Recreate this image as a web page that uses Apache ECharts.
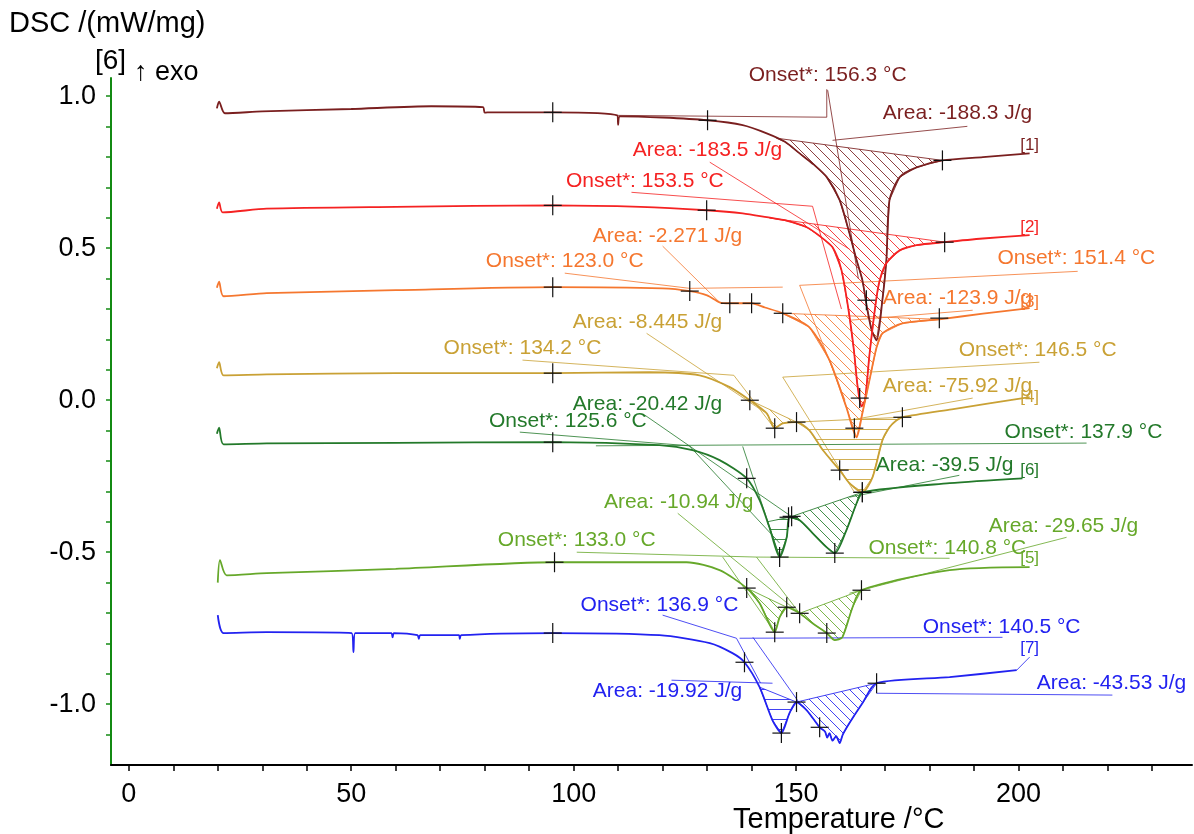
<!DOCTYPE html>
<html>
<head>
<meta charset="utf-8">
<title>DSC</title>
<script src="https://cdn.jsdelivr.net/npm/echarts@6/dist/echarts.min.js"></script>
<style>
  html, body { margin: 0; padding: 0; background: #fff; }
  #chart { width: 1194px; height: 834px; }
</style>
</head>
<body>
<div id="chart"></div>
<script>
// axis ticks and labels
const xTicks = [0, 10, 20, 30, 40, 50, 60, 70, 80, 90, 100, 110, 120, 130, 140, 150, 160, 170, 180, 190, 200, 210, 220, 230];
const xLabels = [0, 50, 100, 150, 200];
const yTicks = [-1.1, -1.0, -0.9, -0.8, -0.7, -0.6, -0.5, -0.4, -0.3, -0.2, -0.1, 0, 0.1, 0.2, 0.3, 0.4, 0.5, 0.6, 0.7, 0.8, 0.9, 1.0];
const yLabels = [-1.0, -0.5, 0, 0.5, 1.0];

// curves, [temperature, dsc]
const curve1 = [[19.8,0.960],[20.3,0.982],[21.6,0.944],[30,0.950],[50,0.958],[68,0.967],[79.6,0.964],[80.0,0.946],[80.6,0.947],[95.3,0.947],[109.8,0.937],[110.0,0.906],[110.4,0.934],[120,0.930],[130.1,0.921],[138,0.905],[143.4,0.878],[147.5,0.850],[150.8,0.812],[154,0.775],[156.9,0.734],[159.8,0.658],[162.0,0.549],[163.6,0.461],[164.9,0.395],[166.0,0.300],[167.0,0.230],[168.1,0.197],[169.4,0.329],[170.3,0.461],[171.0,0.658],[173.3,0.734],[177.1,0.766],[182.9,0.789],[192,0.800],[202.5,0.812]];
const curve2 = [[19.8,0.630],[20.3,0.651],[21.1,0.618],[31,0.630],[60,0.636],[95.3,0.641],[115,0.636],[129.9,0.625],[138,0.615],[143.4,0.602],[148,0.590],[152.4,0.569],[155.3,0.540],[158.2,0.503],[160.2,0.428],[161.8,0.296],[163.0,0.164],[163.8,0.049],[164.7,-0.020],[165.5,0.000],[166.5,0.150],[168.0,0.330],[168.8,0.395],[170.3,0.451],[173.3,0.493],[177.1,0.510],[183.4,0.520],[192,0.532],[202.5,0.543]];
const curve3 = [[19.8,0.370],[20.3,0.390],[21.3,0.342],[31,0.352],[60,0.362],[95.3,0.372],[120,0.368],[126.1,0.359],[130,0.345],[132.8,0.322],[135.1,0.319],[140,0.319],[143,0.305],[147,0.286],[153,0.240],[157.5,0.132],[161.3,-0.023],[163.6,-0.122],[164.9,-0.043],[166.5,0.066],[168.1,0.174],[169.4,0.220],[173.9,0.253],[182.2,0.266],[192,0.285],[202.5,0.303]];
const curve4 = [[19.8,0.105],[20.3,0.125],[21.3,0.082],[31,0.085],[60,0.089],[95.3,0.089],[117,0.092],[128.3,0.082],[135.1,0.043],[139.6,0.000],[143.4,-0.043],[145.2,-0.092],[147.0,-0.076],[150.1,-0.072],[153.0,-0.099],[156.0,-0.164],[159.8,-0.230],[162.0,-0.273],[164.9,-0.303],[167.2,-0.253],[169.4,-0.132],[171.0,-0.089],[172.6,-0.066],[173.9,-0.056],[185,-0.030],[202.5,0.010]];
const curve6 = [[19.8,-0.110],[20.3,-0.090],[21.3,-0.145],[31,-0.142],[60,-0.140],[95.3,-0.138],[119.3,-0.148],[126.7,-0.164],[132.8,-0.197],[138.9,-0.257],[141.8,-0.329],[144.0,-0.418],[146.3,-0.516],[147.9,-0.451],[148.5,-0.385],[150.8,-0.395],[153.7,-0.437],[156.9,-0.484],[158.7,-0.503],[161.3,-0.428],[163.6,-0.339],[164.9,-0.303],[184.5,-0.273],[200.9,-0.257]];
const curve5 = [[20.0,-0.600],[20.5,-0.526],[22.0,-0.576],[31,-0.569],[60,-0.555],[95.7,-0.533],[125.4,-0.533],[132.8,-0.559],[138.9,-0.618],[141.8,-0.668],[145.2,-0.763],[146.3,-0.714],[147.9,-0.681],[150.8,-0.701],[153.7,-0.734],[156.9,-0.766],[158.7,-0.789],[160.4,-0.780],[162.7,-0.681],[164.7,-0.625],[184.5,-0.559],[202.5,-0.549]];
const curve7 = [[20.0,-0.707],[21.3,-0.766],[31,-0.763],[50.1,-0.766],[50.5,-0.829],[50.9,-0.766],[59.0,-0.766],[59.3,-0.780],[59.6,-0.766],[64.9,-0.773],[65.2,-0.785],[65.5,-0.773],[74.2,-0.773],[74.4,-0.785],[74.7,-0.773],[95.3,-0.766],[119.3,-0.773],[130.6,-0.799],[135.7,-0.832],[138.4,-0.862],[141.8,-0.944],[144.7,-1.053],[146.7,-1.095],[148.5,-1.030],[150.1,-0.993],[152.4,-1.020],[155.3,-1.076],[156.5,-1.090],[157.0,-1.110],[157.5,-1.095],[158.2,-1.120],[159.0,-1.105],[159.8,-1.128],[160.5,-1.100],[162.0,-1.062],[164.9,-0.997],[168.1,-0.931],[184.5,-0.911],[199.6,-0.888]];

// evaluation marks (+)
const marks1 = [[95.3,0.947],[130.1,0.921],[165.8,0.329],[182.9,0.789]];
const marks2 = [[95.3,0.641],[129.9,0.625],[164.3,0.007],[183.4,0.520]];
const marks3 = [[95.3,0.372],[126.1,0.359],[135.1,0.319],[140.0,0.319],[147.0,0.286],[163.1,-0.092],[182.2,0.270]];
const marks4 = [[95.3,0.089],[139.6,0.000],[145.2,-0.092],[150.1,-0.072],[159.8,-0.230],[164.9,-0.303],[173.9,-0.056]];
const marks6 = [[95.3,-0.138],[138.9,-0.257],[146.3,-0.516],[148.3,-0.385],[149.0,-0.382],[158.7,-0.503],[164.9,-0.303]];
const marks5 = [[95.7,-0.533],[138.9,-0.618],[145.2,-0.763],[147.9,-0.681],[150.8,-0.701],[156.9,-0.766],[164.7,-0.625]];
const marks7 = [[95.3,-0.766],[138.4,-0.862],[146.7,-1.095],[150.1,-0.993],[155.3,-1.076],[168.1,-0.931]];

// integrated areas: [T start, baseline start, T end, baseline end, hatch]
const areas1 = [[145.6,0.862,182.9,0.789,'d']];
const areas2 = [[144.0,0.600,183.4,0.520,'d']];
const areas3 = [[147.0,0.286,182.2,0.266,'d']];
const areas4 = [[139.6,0.000,150.1,-0.072,'d'],[150.1,-0.072,173.9,-0.056,'h']];
const areas6 = [[143.5,-0.400,148.5,-0.385,'h'],[148.5,-0.385,164.9,-0.303,'d']];
const areas5 = [[138.9,-0.618,147.9,-0.681,'d'],[150.8,-0.701,164.7,-0.625,'d']];
const areas7 = [[141.8,-0.944,150.1,-0.993,'h'],[150.1,-0.993,168.1,-0.931,'d']];

// tangents, baselines and leader lines
const guides1 = [[[110,0.937],[156.9,0.931],[156.9,1.023]],[[157.1,1.020],[164.0,0.400]],[[188.5,0.901],[158.2,0.855]]];
const guides2 = [[[113.0,0.684],[153.7,0.638],[160.2,0.300]],[[130.6,0.783],[162.0,0.497]]];
const guides3 = [[[120.0,0.507],[132.8,0.322]],[[98.0,0.418],[126.1,0.368],[147,0.372]],[[213.3,0.424],[150.8,0.378],[161.0,0.000]],[[189.7,0.296],[162.0,0.263]]];
const guides4 = [[[116.4,0.220],[142.9,-0.039]],[[88.5,0.132],[136,0.082],[145,-0.090]],[[204.7,0.125],[147.0,0.076],[163.0,-0.300]],[[189.7,0.007],[162.0,-0.066]]];
const guides6 = [[[116.0,-0.049],[149.2,-0.385]],[[87.9,-0.105],[126,-0.150],[146.3,-0.470]],[[215.3,-0.141],[105,-0.150]],[[138,-0.152],[146.3,-0.516]],[[186.7,-0.247],[162.0,-0.319]]];
const guides5 = [[[123.4,-0.372],[150.8,-0.701]],[[100.7,-0.500],[141.1,-0.516],[184.5,-0.520]],[[141.1,-0.516],[150.8,-0.701]],[[133.5,-0.516],[145.2,-0.763]],[[210.8,-0.451],[162.0,-0.635]]];
const guides7 = [[[120.0,-0.707],[136.6,-0.783],[142.0,-0.930]],[[137.3,-0.783],[196.4,-0.780]],[[140.3,-0.780],[150.8,-0.997]],[[122.0,-0.921],[144.7,-0.931]],[[221.1,-0.970],[168.1,-0.964]],[[199.6,-0.888],[202.5,-0.845]]];

// result texts: [text, T, dsc]
const labels1 = [['Onset*: 156.3 °C',157.1,1.069],['Area: -188.3 J/g',186.3,0.944],['[1]',202.5,0.839]];
const labels2 = [['Area: -183.5 J/g',130.1,0.822],['Onset*: 153.5 °C',116.0,0.720],['[2]',202.5,0.569]];
const labels3 = [['Area: -2.271 J/g',121.1,0.539],['Onset*: 123.0 °C',98.0,0.457],['Onset*: 151.4 °C',213.0,0.467],['Area: -123.9 J/g',186.3,0.336],['[3]',202.5,0.322]];
const labels4 = [['Area: -8.445 J/g',116.6,0.257],['Onset*: 134.2 °C',88.5,0.171],['Onset*: 146.5 °C',204.3,0.164],['Area: -75.92 J/g',186.3,0.046],['[4]',202.5,0.010]];
const labels6 = [['Area: -20.42 J/g',116.6,-0.013],['Onset*: 125.6 °C',98.7,-0.069],['Onset*: 137.9 °C',214.6,-0.105],['Area: -39.5 J/g',183.4,-0.214],['[6]',202.5,-0.230]];
const labels5 = [['Area: -10.94 J/g',123.6,-0.336],['Area: -29.65 J/g',210.1,-0.414],['Onset*: 133.0 °C',100.7,-0.461],['Onset*: 140.8 °C',184.0,-0.487],['[5]',202.5,-0.520]];
const labels7 = [['Onset*: 136.9 °C',119.3,-0.674],['Onset*: 140.5 °C',196.2,-0.747],['[7]',202.5,-0.816],['Area: -19.92 J/g',121.1,-0.957],['Area: -43.53 J/g',220.9,-0.931]];

const samples = [
  { color: '#7a1f1f', curve: curve1, marks: marks1, areas: areas1, guides: guides1, labels: labels1 },
  { color: '#f52222', curve: curve2, marks: marks2, areas: areas2, guides: guides2, labels: labels2 },
  { color: '#f5772f', curve: curve3, marks: marks3, areas: areas3, guides: guides3, labels: labels3 },
  { color: '#c9a135', curve: curve4, marks: marks4, areas: areas4, guides: guides4, labels: labels4 },
  { color: '#23792a', curve: curve6, marks: marks6, areas: areas6, guides: guides6, labels: labels6 },
  { color: '#66a82a', curve: curve5, marks: marks5, areas: areas5, guides: guides5, labels: labels5 },
  { color: '#2222f0', curve: curve7, marks: marks7, areas: areas7, guides: guides7, labels: labels7 },
];

const FONT = '"Liberation Sans", Arial, sans-serif';
const patternCache = {};

function hatchPattern(color, kind) {
  const key = color + kind;
  if (patternCache[key]) return patternCache[key];
  const s = 10;
  const c = document.createElement('canvas');
  c.width = s;
  c.height = s;
  const g = c.getContext('2d');
  g.strokeStyle = color;
  g.lineWidth = 1;
  g.beginPath();
  if (kind === 'h') {
    g.moveTo(0, s - 0.5);
    g.lineTo(s, s - 0.5);
  } else {
    g.moveTo(0, 0); g.lineTo(s, s);
    g.moveTo(-2, s - 2); g.lineTo(2, s + 2);
    g.moveTo(s - 2, -2); g.lineTo(s + 2, 2);
  }
  g.stroke();
  patternCache[key] = { image: c, repeat: 'repeat' };
  return patternCache[key];
}

const series = [];
samples.forEach((s) => {
  series.push({
    type: 'custom',
    z: 2,
    silent: true,
    data: s.areas.map((a) => [a[0], a[1]]),
    renderItem: (params, api) => {
      const a = s.areas[params.dataIndex];
      const inner = s.curve.filter((p) => p[0] > a[0] && p[0] < a[2]);
      const pts = [[a[0], a[1]], ...inner, [a[2], a[3]]].map((p) => api.coord(p));
      return {
        type: 'polygon',
        shape: { points: pts },
        style: { fill: hatchPattern(s.color, a[4]), stroke: s.color, lineWidth: 1, opacity: 0.85 },
      };
    },
  });
  series.push({
    type: 'custom',
    z: 3,
    silent: true,
    data: s.guides.map((g) => g[0]),
    renderItem: (params, api) => {
      const pts = s.guides[params.dataIndex].map((p) => api.coord(p));
      return {
        type: 'polyline',
        shape: { points: pts },
        style: { stroke: s.color, lineWidth: 1, fill: null, opacity: 0.8 },
      };
    },
  });
  series.push({
    type: 'line',
    z: 5,
    silent: true,
    data: s.curve,
    showSymbol: false,
    smooth: 0.25,
    lineStyle: { color: s.color, width: 1.8 },
  });
  series.push({
    type: 'custom',
    z: 6,
    silent: true,
    data: s.marks,
    renderItem: (params, api) => {
      const p = api.coord([api.value(0), api.value(1)]);
      const st = { stroke: '#111', lineWidth: 1.2 };
      return {
        type: 'group',
        children: [
          { type: 'line', shape: { x1: p[0] - 9, y1: p[1], x2: p[0] + 9, y2: p[1] }, style: st },
          { type: 'line', shape: { x1: p[0], y1: p[1] - 10, x2: p[0], y2: p[1] + 10 }, style: st },
        ],
      };
    },
  });
  series.push({
    type: 'custom',
    z: 7,
    silent: true,
    data: s.labels.map((l) => [l[1], l[2]]),
    renderItem: (params, api) => {
      const l = s.labels[params.dataIndex];
      const p = api.coord([l[1], l[2]]);
      const small = l[0].startsWith('[');
      return {
        type: 'text',
        x: p[0],
        y: p[1],
        style: {
          text: l[0],
          fill: s.color,
          font: (small ? '17px ' : '21px ') + FONT,
          align: 'center',
          verticalAlign: 'middle',
        },
      };
    },
  });
});

const chart = echarts.init(document.getElementById('chart'));
chart.setOption({
  animation: false,
  backgroundColor: '#fff',
  grid: { left: 111, top: 78, width: 1081, height: 687, containLabel: false },
  xAxis: {
    type: 'value',
    min: -4,
    max: 239,
    axisLine: { onZero: false, lineStyle: { color: '#000', width: 2 } },
    axisTick: { show: true, inside: false, length: 6, customValues: xTicks, lineStyle: { color: '#000', width: 1.5 } },
    axisLabel: { customValues: xLabels, color: '#000', fontSize: 27, fontFamily: FONT, margin: 16 },
    splitLine: { show: false },
  },
  yAxis: {
    type: 'value',
    min: -1.2,
    max: 1.06,
    axisLine: { show: true, onZero: false, lineStyle: { color: '#138a13', width: 2 } },
    axisTick: { show: true, inside: false, length: 5, customValues: yTicks, lineStyle: { color: '#138a13', width: 1.5 } },
    axisLabel: { customValues: yLabels, color: '#000', fontSize: 27, fontFamily: FONT, margin: 15, formatter: (v) => v.toFixed(1) },
    splitLine: { show: false },
  },
  graphic: [
    { type: 'text', left: 9, top: 9, style: { text: 'DSC /(mW/mg)', font: '29px ' + FONT, fill: '#000' } },
    { type: 'text', left: 95, top: 47, style: { text: '[6]', font: '28px ' + FONT, fill: '#000' } },
    { type: 'text', left: 134, top: 59, style: { text: '↑ exo', font: '27px ' + FONT, fill: '#000' } },
    { type: 'text', left: 733, top: 805, style: { text: 'Temperature /°C', font: '29px ' + FONT, fill: '#000' } },
  ],
  series: series,
});
</script>
</body>
</html>
